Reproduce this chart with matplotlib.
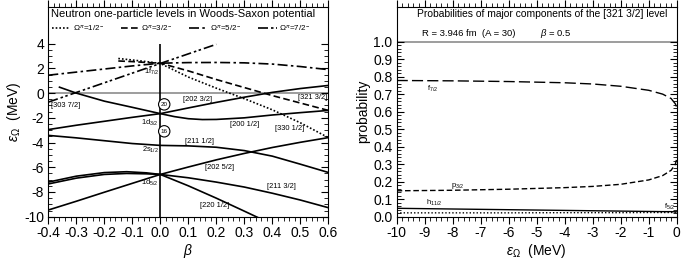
import numpy as np
import matplotlib
matplotlib.use("Agg")
import matplotlib.pyplot as plt
from matplotlib.ticker import FixedLocator, MultipleLocator

plt.rcParams["font.family"] = ["Liberation Sans", "DejaVu Sans"]
plt.rcParams["mathtext.fontset"] = "custom"
plt.rcParams["mathtext.rm"] = "Liberation Sans"
plt.rcParams["mathtext.it"] = "Liberation Sans:italic"
plt.rcParams["axes.unicode_minus"] = False

# --- levels of the left panel (beta, energy in MeV) ---
beta_200 = [-0.36, -0.3, -0.2, -0.1, 0.0, 0.05, 0.1, 0.15, 0.2, 0.3, 0.4, 0.5, 0.6]
e_200 = [0.48, 0.0, -0.65, -1.15, -1.66, -1.9, -2.07, -2.14, -2.13, -2.0, -1.77, -1.58, -1.4]

beta_202_32 = [-0.4, -0.3, -0.2, -0.1, 0.0, 0.1, 0.2, 0.3, 0.4, 0.5, 0.6]
e_202_32 = [-2.95, -2.6, -2.28, -1.96, -1.66, -1.2, -0.75, -0.33, 0.06, 0.37, 0.62]

beta_211_12 = [-0.4, -0.3, -0.2, -0.1, 0.0, 0.1, 0.2, 0.3, 0.4, 0.5, 0.6]
e_211_12 = [-3.42, -3.62, -3.85, -4.08, -4.23, -4.27, -4.38, -4.65, -5.1, -5.75, -6.42]

beta_202_52 = [-0.4, -0.3, -0.2, -0.1, 0.0, 0.1, 0.2, 0.3, 0.4, 0.5, 0.6]
e_202_52 = [-9.46, -8.75, -8.02, -7.3, -6.58, -5.98, -5.4, -4.88, -4.4, -3.98, -3.6]

beta_211_32 = [-0.4, -0.3, -0.2, -0.12, -0.05, 0.0, 0.1, 0.2, 0.3, 0.4, 0.5, 0.6]
e_211_32 = [-7.35, -6.88, -6.58, -6.5, -6.53, -6.58, -6.85, -7.2, -7.6, -8.1, -8.65, -9.27]

beta_220 = [-0.4, -0.3, -0.2, -0.12, -0.05, 0.0, 0.1, 0.2, 0.3, 0.38]
e_220 = [-7.2, -6.72, -6.43, -6.36, -6.45, -6.58, -7.5, -8.5, -9.55, -10.4]

beta_om72 = [-0.4, 0.0, 0.2]
e_om72 = [-0.73, 2.4, 3.95]

beta_om52 = [-0.4, -0.3, -0.2, -0.1, 0.0, 0.1, 0.2, 0.3, 0.4, 0.5, 0.6]
e_om52 = [1.45, 1.7, 1.95, 2.2, 2.42, 2.47, 2.48, 2.45, 2.35, 2.15, 1.9]

beta_om32 = [-0.15, -0.1, -0.05, 0.0, 0.1, 0.2, 0.3, 0.4, 0.5, 0.6]
e_om32 = [2.6, 2.55, 2.48, 2.42, 1.8, 1.1, 0.45, -0.2, -0.8, -1.4]

beta_om12 = [-0.15, -0.1, -0.05, 0.0, 0.1, 0.2, 0.3, 0.4, 0.5, 0.6]
e_om12 = [2.8, 2.68, 2.55, 2.4, 1.3, 0.4, -0.45, -1.35, -2.4, -3.6]

# --- probabilities of the [321 3/2] level (right panel) ---
eps = [-10, -8, -6, -4, -3, -2, -1, -0.5, -0.2, -0.05, 0]
p_f72 = [0.778, 0.776, 0.772, 0.765, 0.758, 0.745, 0.722, 0.70, 0.675, 0.645, 0.625]
p_p32 = [0.148, 0.151, 0.157, 0.166, 0.173, 0.185, 0.21, 0.235, 0.265, 0.30, 0.33]
p_h112 = [0.048, 0.044, 0.040, 0.036, 0.034, 0.032, 0.030, 0.029, 0.029, 0.028, 0.028]
p_f52 = [0.022, 0.022, 0.022, 0.023, 0.023, 0.023, 0.024, 0.024, 0.024, 0.025, 0.025]

fig = plt.figure(figsize=(6.85, 2.59), dpi=100)
ax1 = fig.add_axes([0.0705, 0.1633, 0.4088, 0.8112])
ax2 = fig.add_axes([0.5791, 0.1633, 0.4088, 0.8112])

lw = 1.2
dot = (0, (1, 1.2))
dash = (0, (4, 2))
dashdot = (0, (6, 2, 1.5, 2))
dashdotdot = (0, (6, 1.8, 1.5, 1.5, 1.5, 1.8))

# left panel
ax1.axhline(0, color="#8c8c8c", lw=1.2, zorder=1)
ax1.vlines(0, -10, 4, color="black", lw=1.2, zorder=1)
for b, e in [(beta_200, e_200), (beta_202_32, e_202_32), (beta_211_12, e_211_12),
             (beta_202_52, e_202_52), (beta_211_32, e_211_32), (beta_220, e_220)]:
    ax1.plot(b, e, color="black", lw=lw)
l12, = ax1.plot(beta_om12, e_om12, color="black", lw=lw, ls=dot)
l32, = ax1.plot(beta_om32, e_om32, color="black", lw=lw, ls=dash)
l52, = ax1.plot(beta_om52, e_om52, color="black", lw=lw, ls=dashdot)
l72, = ax1.plot(beta_om72, e_om72, color="black", lw=lw, ls=dashdotdot)

ax1.legend([l12, l32, l52, l72],
           [r"$\Omega^\pi$=1/2$^-$", r"$\Omega^\pi$=3/2$^-$",
            r"$\Omega^\pi$=5/2$^-$", r"$\Omega^\pi$=7/2$^-$"],
           loc="center", bbox_to_anchor=(0.475, 0.898), ncol=4, frameon=False,
           fontsize=5.8, handlelength=2.3, handletextpad=0.3, columnspacing=2.0)

ax1.text(0.48, 0.965, "Neutron one-particle levels in Woods-Saxon potential",
         transform=ax1.transAxes, ha="center", va="center", fontsize=8.0)

small = 5.4
ax1.text(-0.39, -1.0, "[303 7/2]", fontsize=small, va="center")
ax1.text(0.08, -0.53, "[202 3/2]", fontsize=small, va="center")
ax1.text(0.49, -0.32, "[321 3/2]", fontsize=small, va="center")
ax1.text(0.25, -2.52, "[200 1/2]", fontsize=small, va="center")
ax1.text(0.41, -2.85, "[330 1/2]", fontsize=small, va="center")
ax1.text(0.088, -3.9, "[211 1/2]", fontsize=small, va="center")
ax1.text(0.16, -6.0, "[202 5/2]", fontsize=small, va="center")
ax1.text(0.38, -7.58, "[211 3/2]", fontsize=small, va="center")
ax1.text(0.14, -9.06, "[220 1/2]", fontsize=small, va="center")
ax1.text(-0.005, 1.75, r"1f$_{7/2}$", fontsize=small, ha="right", va="center")
ax1.text(-0.005, -2.4, r"1d$_{3/2}$", fontsize=small, ha="right", va="center")
ax1.text(-0.005, -4.62, r"2s$_{1/2}$", fontsize=small, ha="right", va="center")
ax1.text(-0.005, -7.26, r"1d$_{5/2}$", fontsize=small, ha="right", va="center")
for y, s in [(-0.91, "20"), (-3.09, "16")]:
    ax1.text(0.014, y, s, fontsize=4.5, ha="center", va="center",
             bbox=dict(boxstyle="circle,pad=0.35", fc="white", ec="black", lw=0.8))

ax1.set_xlim(-0.4, 0.6)
ax1.set_ylim(-10, 7)
ax1.xaxis.set_major_locator(MultipleLocator(0.1))
ax1.xaxis.set_minor_locator(MultipleLocator(0.02))
ax1.yaxis.set_major_locator(FixedLocator(np.arange(-10, 5, 2)))
ax1.yaxis.set_minor_locator(FixedLocator(np.arange(-10, 4.01, 0.5)))
ax1.xaxis.set_major_formatter(plt.FuncFormatter(lambda v, p: f"{v:.1f}"))
ax1.set_xlabel(r"$\beta$", fontsize=10, labelpad=1)
ax1.set_ylabel(r"$\varepsilon_\Omega$  (MeV)", fontsize=10, labelpad=1)

# right panel
ax2.axhline(1.0, color="#8c8c8c", lw=1.2, zorder=1)
ax2.plot(eps, p_f72, color="black", lw=1.0, ls=(0, (8, 3)))
ax2.plot(eps, p_p32, color="black", lw=1.0, ls=(0, (4, 2)))
ax2.plot(eps, p_h112, color="black", lw=1.0)
ax2.plot(eps, p_f52, color="black", lw=1.0, ls=(0, (1, 1.5)))
ax2.text(-8.9, 0.728, r"f$_{7/2}$", fontsize=small, va="center")
ax2.text(-8.05, 0.175, r"p$_{3/2}$", fontsize=small, va="center")
ax2.text(-8.95, 0.08, r"h$_{11/2}$", fontsize=small, va="center")
ax2.text(-0.45, 0.054, r"f$_{5/2}$", fontsize=small, va="center")

ax2.text(0.519, 0.964, "Probabilities of major components of the [321 3/2] level",
         transform=ax2.transAxes, ha="center", va="center", fontsize=7.4)
ax2.text(0.09, 0.873, "R = 3.946 fm  (A = 30)", transform=ax2.transAxes,
         ha="left", va="center", fontsize=6.8)
ax2.text(0.512, 0.873, r"$\beta$ = 0.5", transform=ax2.transAxes,
         ha="left", va="center", fontsize=6.8)

ax2.set_xlim(-10, 0)
ax2.set_ylim(0, 1.2)
ax2.xaxis.set_major_locator(MultipleLocator(1))
ax2.xaxis.set_minor_locator(MultipleLocator(0.2))
ax2.yaxis.set_major_locator(FixedLocator(np.arange(0, 1.01, 0.1)))
ax2.yaxis.set_minor_locator(FixedLocator(np.arange(0, 1.001, 0.02)))
ax2.yaxis.set_major_formatter(plt.FuncFormatter(lambda v, p: f"{v:.1f}"))
ax2.set_xlabel(r"$\varepsilon_\Omega$  (MeV)", fontsize=10, labelpad=1)
ax2.set_ylabel("probability", fontsize=10, labelpad=2)

for ax in (ax1, ax2):
    ax.tick_params(axis="x", which="both", direction="out", top=True, bottom=True,
                   labelsize=10, pad=2)
    ax.tick_params(axis="y", which="both", direction="in", left=True, right=True,
                   labelsize=10, pad=3)
    ax.tick_params(which="major", length=5, width=0.8)
    ax.tick_params(which="minor", length=3, width=0.6)
    for sp in ax.spines.values():
        sp.set_linewidth(0.8)

fig.savefig("out.png", dpi=100)
